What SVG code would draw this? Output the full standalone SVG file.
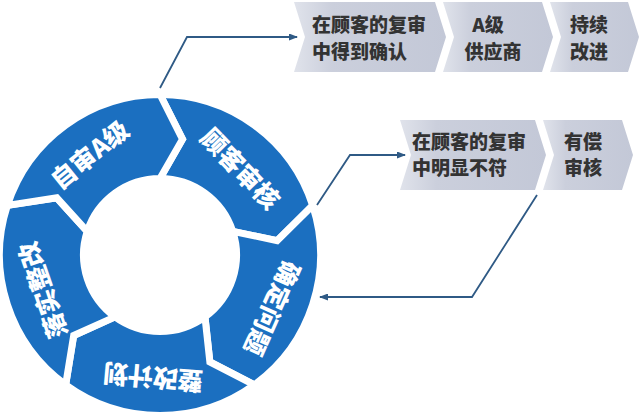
<svg xmlns="http://www.w3.org/2000/svg" width="640" height="416" viewBox="0 0 640 416">
<style>
.seg{fill:#1b6fc0;stroke:#fff;stroke-width:7;stroke-linejoin:miter}
.st{fill:#fff;font-family:"Noto Sans CJK SC","Liberation Sans",sans-serif;font-weight:900;font-size:25px;text-anchor:middle}
.box{fill:url(#bg)}
.bt{fill:#333;font-family:"Noto Sans CJK SC","Liberation Sans",sans-serif;font-weight:900;font-size:19px}
.mid{text-anchor:middle}
.con{fill:none;stroke:#2f5a85;stroke-width:1.8;marker-end:url(#ah)}
</style>
<defs>
<linearGradient id="bg" x1="0" y1="0" x2="1" y2="0">
<stop offset="0" stop-color="#e0e3eb"/>
<stop offset="0.25" stop-color="#cbcfdc"/>
<stop offset="1" stop-color="#c3c8d7"/>
</linearGradient>
<marker id="ah" markerUnits="userSpaceOnUse" markerWidth="9" markerHeight="7" refX="8" refY="3.5" orient="auto">
<path d="M0,0 L9,3.5 L0,7 Z" fill="#2f5a85"/>
</marker>
</defs>
<rect width="640" height="416" fill="#fff"/>

<g id="seg-review">
<path class="seg" d="M160,94.5 A160.5,160.5 0 0 1 312.64,205.4 L277.12,240.62 L232.76,231.36 A76.5,76.5 0 0 0 160,178.5 L182.52,139.17 Z"/>
<text class="st" transform="translate(240,169) rotate(46)" y="9">顾客审核</text>
</g>
<g id="seg-identify">
<path class="seg" d="M312.64,205.4 A160.5,160.5 0 0 1 254.34,384.85 L209.87,361.94 L204.97,316.89 A76.5,76.5 0 0 0 232.76,231.36 L277.12,240.62 Z"/>
<text class="st" transform="translate(272,308) rotate(114)" y="9">确定问题</text>
</g>
<g id="seg-plan">
<path class="seg" d="M254.34,384.85 A160.5,160.5 0 0 1 65.66,384.85 L73.7,335.48 L115.03,316.89 A76.5,76.5 0 0 0 204.97,316.89 L209.87,361.94 Z"/>
<text class="st" transform="translate(153,377) rotate(185)" y="9">整改计划</text>
</g>
<g id="seg-implement">
<path class="seg" d="M65.66,384.85 A160.5,160.5 0 0 1 7.36,205.4 L56.79,197.79 L87.24,231.36 A76.5,76.5 0 0 0 115.03,316.89 L73.7,335.48 Z"/>
<text class="st" transform="translate(43,290) rotate(251)" y="9">落实整改</text>
</g>
<g id="seg-self">
<path class="seg" d="M7.36,205.4 A160.5,160.5 0 0 1 160,94.5 L182.52,139.17 L160,178.5 A76.5,76.5 0 0 0 87.24,231.36 L56.79,197.79 Z"/>
<text class="st" transform="translate(90,155) rotate(-39)" y="9">自审A级</text>
</g>

<g id="box-confirmed">
<polygon class="box" points="294,2 435,2 446,37 435,72 294,72 305,37"/>
<text class="bt" x="312" y="32">在顾客的复审</text>
<text class="bt" x="312" y="59">中得到确认</text>
</g>
<g id="box-a-supplier">
<polygon class="box" points="443,2 542,2 553,37 542,72 443,72 454,37"/>
<text class="bt mid" x="488" y="32">A级</text>
<text class="bt mid" x="493" y="59">供应商</text>
</g>
<g id="box-improve">
<polygon class="box" points="550,2 628,2 639,37 628,72 550,72 561,37"/>
<text class="bt mid" x="589" y="32">持续</text>
<text class="bt mid" x="589" y="59">改进</text>
</g>
<g id="box-nonconform">
<polygon class="box" points="400,120 535,120 546,155 535,190 400,190 411,155"/>
<text class="bt" x="412" y="149">在顾客的复审</text>
<text class="bt" x="412" y="175">中明显不符</text>
</g>
<g id="box-paid">
<polygon class="box" points="543,120 622,120 633,155 622,190 543,190 554,155"/>
<text class="bt mid" x="583" y="149">有偿</text>
<text class="bt mid" x="583" y="175">审核</text>
</g>

<g id="connectors">
<polyline class="con" points="160,88 187,37 297,37"/>
<polyline class="con" points="317,205 350,155 405,155"/>
<polyline class="con" points="537,195 472,297 320,297"/>
</g>
</svg>
